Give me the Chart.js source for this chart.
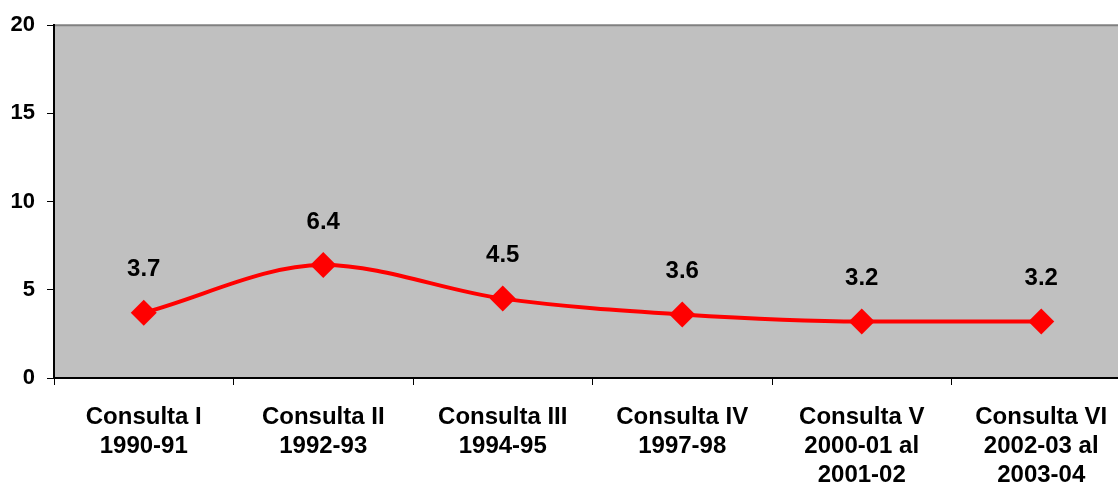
<!DOCTYPE html>
<html>
<head>
<meta charset="utf-8">
<script src="https://cdn.jsdelivr.net/npm/chart.js@4/dist/chart.umd.min.js"></script>
<style>
  html, body { margin: 0; padding: 0; background: #fff; overflow: hidden; }
  #wrap { width: 1118px; height: 487px; overflow: hidden; position: relative; }
  canvas { display: block; }
</style>
</head>
<body>
<div id="wrap"><canvas id="myChart" width="1144" height="487"></canvas></div>
<script>
const labels = [
  ["Consulta I", "1990-91"],
  ["Consulta II", "1992-93"],
  ["Consulta III", "1994-95"],
  ["Consulta IV", "1997-98"],
  ["Consulta V", "2000-01 al", "2001-02"],
  ["Consulta VI", "2002-03 al", "2003-04"],
];
const values = [3.7, 6.4, 4.5, 3.6, 3.2, 3.2];
const yTicks = [0, 5, 10, 15, 20];

const FONT = "'Liberation Sans', Arial, sans-serif";

// gray plot area with a gray line along the top
const plotBackground = {
  id: "plotBackground",
  beforeDraw(chart) {
    const { ctx, chartArea: a } = chart;
    ctx.save();
    ctx.fillStyle = "#c0c0c0";
    ctx.fillRect(a.left, a.top, a.right - a.left, a.bottom - a.top);
    ctx.strokeStyle = "#808080";
    ctx.lineWidth = 2;
    ctx.beginPath();
    ctx.moveTo(a.left, a.top);
    ctx.lineTo(a.right, a.top);
    ctx.stroke();
    ctx.restore();
  },
};

// value labels above each point
const valueLabels = {
  id: "valueLabels",
  afterDatasetsDraw(chart) {
    const { ctx } = chart;
    const meta = chart.getDatasetMeta(0);
    ctx.save();
    ctx.font = "bold 24px " + FONT;
    ctx.fillStyle = "#000";
    ctx.textAlign = "center";
    ctx.textBaseline = "middle";
    meta.data.forEach((pt, i) => {
      ctx.fillText(values[i].toFixed(1), pt.x, pt.y - 43);
    });
    ctx.restore();
  },
};

const data = {
  labels: labels,
  datasets: [
    {
      data: values,
      borderColor: "#ff0000",
      backgroundColor: "#ff0000",
      borderWidth: 4,
      cubicInterpolationMode: "monotone",
      pointStyle: "rectRot",
      pointRadius: 13,
      pointHoverRadius: 13,
      pointBorderWidth: 0,
      fill: false,
    },
  ],
};

const config = {
  type: "line",
  data: data,
  options: {
    responsive: false,
    animation: false,
    layout: { padding: { top: 23, right: 0, left: 0, bottom: 0 } },
    plugins: {
      legend: { display: false },
      tooltip: { enabled: false },
    },
    scales: {
      x: {
        offset: true,
        grid: {
          offset: true,
          drawOnChartArea: false,
          drawTicks: true,
          tickLength: 7,
          color: "#000",
          lineWidth: 1,
        },
        border: { color: "#000", width: 2 },
        ticks: {
          color: "#000",
          padding: 18,
          maxRotation: 0,
          autoSkip: false,
          font: { family: FONT, size: 24, weight: "bold", lineHeight: 1.2 },
        },
        afterFit(scale) {
          scale.height = 109;
        },
      },
      y: {
        min: 0,
        max: 20,
        afterBuildTicks(scale) { scale.ticks = yTicks.map(v => ({ value: v })); },
        grid: {
          drawOnChartArea: false,
          drawTicks: true,
          tickLength: 7,
          color: "#000",
        },
        border: { color: "#000", width: 2 },
        ticks: {
          color: "#000",
          padding: 12,
          font: { family: FONT, size: 22, weight: "bold" },
        },
        afterFit(scale) { scale.width = 54; },
      },
    },
  },
  plugins: [plotBackground, valueLabels],
};

window.onload = function () {
  const ctx = document.getElementById("myChart").getContext("2d");
  new Chart(ctx, config);
};
</script>
</body>
</html>
